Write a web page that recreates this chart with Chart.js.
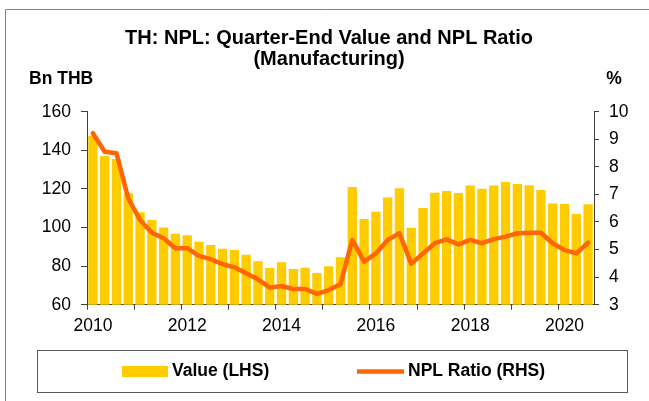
<!DOCTYPE html>
<html>
<head>
<meta charset="utf-8">
<script src="https://cdn.jsdelivr.net/npm/chart.js@4.4.1/dist/chart.umd.min.js"></script>
<style>
  html, body { margin: 0; padding: 0; background: #fff; }
  #contenedor { width: 649px; height: 401px; position: relative; }
</style>
</head>
<body>
<div id="contenedor"><canvas id="canvasGrafico"></canvas></div>
<script>
// Trimestres 2010Q1 .. 2020Q3
const trimestres = [];
for (let a = 2010; a <= 2020; a++) {
    for (let q = 1; q <= 4; q++) {
        if (a === 2020 && q === 4) break;
        trimestres.push(a + 'Q' + q);
    }
}
const etiquetasAnio = ['2010', '2012', '2014', '2016', '2018', '2020'];

// Valor NPL, miles de millones THB (eje izquierdo)
const valorNPL = [
    147.6, 137.0, 135.5, 117.7, 107.9, 103.9, 100.0, 96.8, 96.0, 92.6, 90.9,
    89.0, 88.3, 85.9, 82.5, 79.0, 82.0, 78.5, 79.2, 76.4, 79.9, 84.6,
    121.0, 104.4, 108.2, 115.6, 120.3, 99.9, 110.1, 118.0, 118.9, 117.9, 121.7,
    120.1, 121.7, 123.6, 122.5, 121.9, 119.4, 112.5, 112.2, 107.0, 112.0
];

// Ratio NPL, % (eje derecho)
const ratioNPL = [
    9.22, 8.55, 8.49, 6.86, 6.07, 5.61, 5.41, 5.05, 5.05, 4.77, 4.65,
    4.47, 4.36, 4.14, 3.92, 3.62, 3.68, 3.57, 3.57, 3.39, 3.53, 3.74,
    5.35, 4.56, 4.86, 5.35, 5.59, 4.48, 4.86, 5.23, 5.37, 5.19, 5.35,
    5.23, 5.38, 5.47, 5.59, 5.61, 5.61, 5.23, 4.98, 4.86, 5.25
];

const fuente = '"Liberation Sans", Arial, sans-serif';
const colorBarra = '#FFCC00';
const colorLinea = '#FF6600';
const colorEje = '#404040';

// marco exterior, unidades de los ejes y leyenda con recuadro
const marcoYLeyenda = {
    id: 'marcoYLeyenda',
    beforeDraw(chart) {
        const c = chart.ctx;
        c.save();
        c.fillStyle = '#fff';
        c.fillRect(0, 0, chart.width, chart.height);
        c.strokeStyle = '#808080';
        c.lineWidth = 1;
        c.beginPath();
        c.moveTo(5.5, chart.height);
        c.lineTo(5.5, 9.5);
        c.lineTo(chart.width, 9.5);
        c.stroke();
        c.restore();
    },
    afterDraw(chart) {
        const c = chart.ctx;
        const ds = chart.data.datasets;
        const barra = ds.find(d => d.type === 'bar');
        const linea = ds.find(d => d.type === 'line');
        c.save();
        c.fillStyle = '#000';
        c.font = 'bold 17.5px ' + fuente;
        c.textBaseline = 'middle';
        c.textAlign = 'left';
        c.fillText('Bn THB', 29, 79);
        c.textAlign = 'center';
        c.fillText('%', 614, 79);

        c.strokeStyle = '#595959';
        c.lineWidth = 1;
        c.strokeRect(37.5, 350.5, 590, 42);
        const yc = 371.5;
        c.fillStyle = barra.backgroundColor;
        c.fillRect(122, 366, 46, 11);
        c.strokeStyle = linea.borderColor;
        c.lineWidth = 4.5;
        c.beginPath();
        c.moveTo(357, yc);
        c.lineTo(404, yc);
        c.stroke();
        c.fillStyle = '#000';
        c.textAlign = 'left';
        c.fillText(barra.label, 172, yc);
        c.fillText(linea.label, 408, yc);
        c.restore();
    }
};

function inicializarGrafico() {
    const ctx = document.getElementById('canvasGrafico').getContext('2d');

    new Chart(ctx, {
        type: 'bar',
        data: {
            labels: trimestres,
            datasets: [
                {
                    type: 'line',
                    label: 'NPL Ratio (RHS)',
                    data: ratioNPL,
                    yAxisID: 'y1',
                    borderColor: colorLinea,
                    backgroundColor: colorLinea,
                    borderWidth: 4.5,
                    borderJoinStyle: 'round',
                    borderCapStyle: 'round',
                    pointRadius: 0,
                    tension: 0,
                    order: 1
                },
                {
                    type: 'bar',
                    label: 'Value (LHS)',
                    data: valorNPL,
                    yAxisID: 'y',
                    backgroundColor: colorBarra,
                    borderWidth: 0,
                    categoryPercentage: 1,
                    barPercentage: 0.79,
                    order: 2
                }
            ]
        },
        options: {
            responsive: true,
            maintainAspectRatio: false,
            animation: false,
            layout: { padding: { left: 24, right: 15, top: 0, bottom: 56.3 } },
            scales: {
                x: {
                    type: 'category',
                    offset: true,
                    afterFit: (s) => { s.height = 40; },
                    grid: {
                        offset: true,
                        drawOnChartArea: false,
                        drawTicks: true,
                        tickLength: 5,
                        tickColor: (c) => (c.index % 4 === 0 ? colorEje : 'rgba(0,0,0,0)')
                    },
                    border: { color: colorEje, width: 1 },
                    ticks: {
                        autoSkip: false,
                        maxRotation: 0,
                        minRotation: 0,
                        padding: 6,
                        color: '#000',
                        font: { family: fuente, size: 17.5 },
                        callback: function (val, i) {
                            const t = trimestres[i];
                            const anio = t.slice(0, 4);
                            return t.endsWith('Q1') && etiquetasAnio.includes(anio) ? anio : '';
                        }
                    }
                },
                y: {
                    position: 'left',
                    min: 60,
                    max: 160,
                    afterFit: (s) => { s.width = 63; },
                    grid: { drawOnChartArea: false, tickLength: 6, tickColor: colorEje },
                    border: { color: colorEje, width: 1 },
                    ticks: {
                        stepSize: 20,
                        padding: 10,
                        color: '#000',
                        font: { family: fuente, size: 17.5 }
                    }
                },
                y1: {
                    position: 'right',
                    min: 3,
                    max: 10,
                    afterFit: (s) => { s.width = 40; },
                    grid: { drawOnChartArea: false, tickLength: 5, tickColor: colorEje },
                    border: { color: colorEje, width: 1 },
                    ticks: {
                        stepSize: 1,
                        padding: 10,
                        color: '#000',
                        font: { family: fuente, size: 17.5 }
                    }
                }
            },
            plugins: {
                legend: { display: false },
                tooltip: { enabled: false },
                title: {
                    display: true,
                    text: ['TH: NPL: Quarter-End Value and NPL Ratio', '(Manufacturing)'],
                    color: '#000',
                    font: { family: fuente, size: 20, weight: 'bold', lineHeight: 1.05 },
                    padding: { top: 27.5, bottom: 42.2 }
                }
            }
        },
        plugins: [marcoYLeyenda]
    });
}

inicializarGrafico();
</script>
</body>
</html>
